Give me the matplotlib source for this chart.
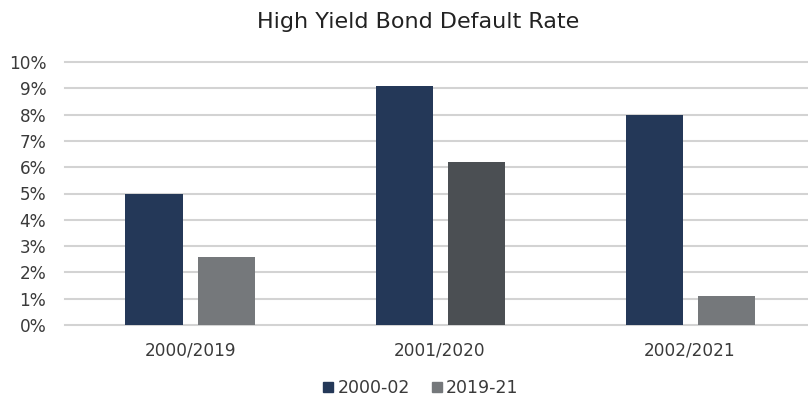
import matplotlib
matplotlib.use("Agg")
import matplotlib.pyplot as plt
from matplotlib.patches import Patch
import numpy as np

categories = ["2000/2019", "2001/2020", "2002/2021"]
series_names = ["2000-02", "2019-21"]
s2000_02 = [5.0, 9.1, 8.0]
s2019_21 = [2.6, 6.2, 1.1]
yticks = [0, 1, 2, 3, 4, 5, 6, 7, 8, 9, 10]

navy = "#243858"
grey = "#75787b"
grey_dark = "#4b4f53"
grey_colors = [grey, grey_dark, grey]
text_col = "#3a3a3a"

plt.rcParams['font.family'] = ['DejaVu Sans']

fig = plt.figure(figsize=(8.08, 4.01), dpi=100)
ax = fig.add_axes([65/808, 76/401, 750/808, 263/401])

x = np.arange(len(categories))
w = 0.228
gap = 0.06
ax.bar(x - (w + gap)/2, s2000_02, width=w, color=navy, zorder=3)
ax.bar(x + (w + gap)/2, s2019_21, width=w, color=grey_colors, zorder=3)

ax.set_xlim(-0.5, 2.5)
ax.set_ylim(0, 10)
ax.set_yticks(yticks)
ax.set_yticklabels([f"{t}%" for t in yticks])
ax.set_xticks(x)
ax.set_xticklabels(categories)
ax.yaxis.grid(True, color="#d3d3d3", linewidth=1.5, zorder=0)
ax.set_axisbelow(True)
for gl in ax.get_ygridlines():
    gl.set_clip_on(False)
for s in ax.spines.values():
    s.set_visible(False)
ax.tick_params(axis='both', length=0, labelsize=12.2, colors=text_col)
ax.tick_params(axis='y', pad=13.5)
ax.tick_params(axis='x', pad=12)

fig.text(418/808, 1 - 22/401, "High Yield Bond Default Rate", ha="center", va="center",
         fontsize=16, color="#222222")

handles = [Patch(color=navy, label=series_names[0]), Patch(color=grey, label=series_names[1])]
fig.legend(handles=handles, loc="center", bbox_to_anchor=(421/808, 1 - 388/401), ncol=2,
           frameon=False, fontsize=12.5, handlelength=0.55, handleheight=0.55,
           handletextpad=0.25, columnspacing=1.3, labelcolor=text_col)

fig.savefig("out.png", dpi=100)
